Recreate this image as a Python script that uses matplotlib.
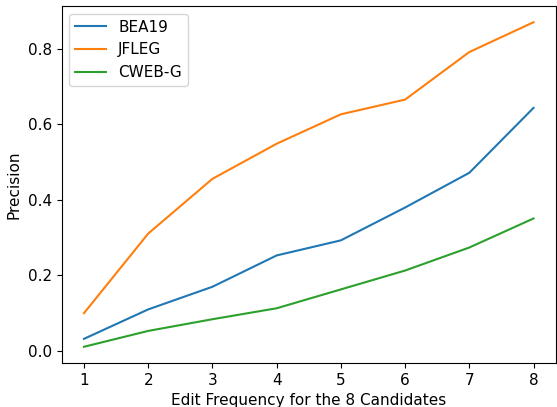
import matplotlib
matplotlib.use("Agg")
import matplotlib.pyplot as plt

# fréquences d'édition
frequences = [1, 2, 3, 4, 5, 6, 7, 8]

bea19 = [0.032, 0.110, 0.170, 0.253, 0.293, 0.380, 0.472, 0.644]
jfleg = [0.100, 0.311, 0.456, 0.549, 0.627, 0.666, 0.792, 0.871]
cweb_g = [0.011, 0.053, 0.084, 0.113, 0.163, 0.213, 0.274, 0.351]

plt.rcParams['font.size'] = 11

fig = plt.figure(figsize=(5.57, 4.07), dpi=100)
ax = fig.add_axes([61.5 / 557, (407 - 363) / 407, (556 - 61.5) / 557, (363 - 6) / 407])

ax.plot(frequences, bea19, label="BEA19")
ax.plot(frequences, jfleg, label="JFLEG")
ax.plot(frequences, cweb_g, label="CWEB-G")

ax.set_xlabel("Edit Frequency for the 8 Candidates")
ax.set_ylabel("Precision")
ax.legend(loc="upper left")

fig.savefig("out.png", dpi=100)
